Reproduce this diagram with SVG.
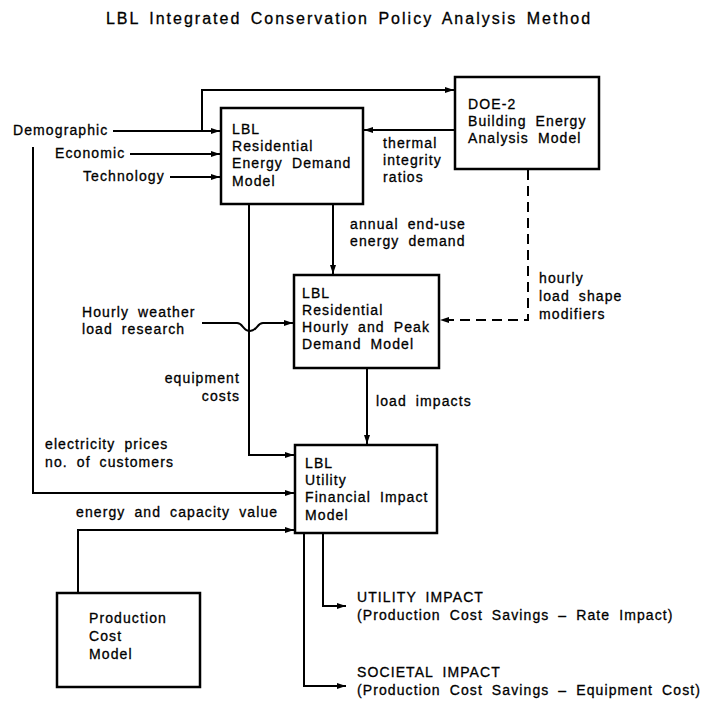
<svg xmlns="http://www.w3.org/2000/svg" width="705" height="704" viewBox="0 0 705 704">
<defs>
<style>
text{font-family:"Liberation Sans",Arial,Helvetica,sans-serif;font-size:14px;letter-spacing:1.1px;word-spacing:4px;fill:#000;stroke:#000;stroke-width:0.3px}
.title{font-size:16px;letter-spacing:2px;word-spacing:3px}
.box{fill:#fff;stroke:#000;stroke-width:2.5}
.ln{fill:none;stroke:#000;stroke-width:2}
.dash{stroke-dasharray:10 6}
</style>
<marker id="ah" viewBox="0 0 9 6" refX="9" refY="3" markerWidth="9" markerHeight="6" markerUnits="userSpaceOnUse" orient="auto">
<path d="M0,0 L9,3 L0,6 z" fill="#000"/>
</marker>
</defs>
<rect width="705" height="704" fill="#fff"/>
<text class="title" x="349" y="24" text-anchor="middle">LBL Integrated Conservation Policy Analysis Method</text>

<g id="connectors">
<path class="ln" d="M113,131 H220" marker-end="url(#ah)"/>
<path class="ln" d="M130,154 H220" marker-end="url(#ah)"/>
<path class="ln" d="M170,177 H220" marker-end="url(#ah)"/>
<path class="ln" d="M202,131 V90 H454" marker-end="url(#ah)"/>
<path class="ln" d="M455,130 H364" marker-end="url(#ah)"/>
<path class="ln" d="M33,147 V493 H294" marker-end="url(#ah)"/>
<path class="ln" d="M249,204 V455 H294" marker-end="url(#ah)"/>
<path class="ln" d="M333,204 V274" marker-end="url(#ah)"/>
<path class="ln" d="M202,323 H237 C243,323 243,331 250,331 C257,331 257,323 263,323 H293" marker-end="url(#ah)"/>
<path class="ln dash" d="M528,170 V320 H440" marker-end="url(#ah)"/>
<path class="ln" d="M367,368 V444" marker-end="url(#ah)"/>
<path class="ln" d="M78,593 V530 H294" marker-end="url(#ah)"/>
<path class="ln" d="M323,533 V606 H346" marker-end="url(#ah)"/>
<path class="ln" d="M304,533 V686 H346" marker-end="url(#ah)"/>
</g>

<g id="labels">
<text x="13" y="135">Demographic</text>
<text x="55" y="158">Economic</text>
<text x="83" y="181">Technology</text>
<text x="383" y="148">thermal</text>
<text x="383" y="165">integrity</text>
<text x="383" y="182">ratios</text>
<text x="350" y="229">annual end-use</text>
<text x="350" y="246">energy demand</text>
<text x="539" y="283">hourly</text>
<text x="539" y="301">load shape</text>
<text x="539" y="319">modifiers</text>
<text x="82" y="317">Hourly weather</text>
<text x="82" y="334">load research</text>
<text x="240" y="383" text-anchor="end">equipment</text>
<text x="240" y="401" text-anchor="end">costs</text>
<text x="376" y="406">load impacts</text>
<text x="45" y="449">electricity prices</text>
<text x="45" y="467">no. of customers</text>
<text x="76" y="517">energy and capacity value</text>
</g>

<g id="node-red">
<rect class="box" x="221" y="108" width="142" height="96"/>
<text x="232" y="134">LBL</text>
<text x="232" y="151">Residential</text>
<text x="232" y="168">Energy Demand</text>
<text x="232" y="186">Model</text>
</g>

<g id="node-doe2">
<rect class="box" x="455" y="77" width="144" height="92"/>
<text x="468" y="109">DOE-2</text>
<text x="468" y="126">Building Energy</text>
<text x="468" y="143">Analysis Model</text>
</g>

<g id="node-hourly">
<rect class="box" x="294" y="275" width="145" height="93"/>
<text x="302" y="298">LBL</text>
<text x="302" y="315">Residential</text>
<text x="302" y="332">Hourly and Peak</text>
<text x="302" y="349">Demand Model</text>
</g>

<g id="node-utility">
<rect class="box" x="295" y="445" width="142" height="88"/>
<text x="305" y="468">LBL</text>
<text x="305" y="485">Utility</text>
<text x="305" y="502">Financial Impact</text>
<text x="305" y="520">Model</text>
</g>

<g id="node-production">
<rect class="box" x="57" y="593" width="143" height="94"/>
<text x="89" y="623">Production</text>
<text x="89" y="641">Cost</text>
<text x="89" y="659">Model</text>
</g>

<g id="node-utility-impact">
<text x="357" y="602">UTILITY IMPACT</text>
<text x="357" y="620">(Production Cost Savings – Rate Impact)</text>
</g>

<g id="node-societal-impact">
<text x="357" y="677">SOCIETAL IMPACT</text>
<text x="357" y="695">(Production Cost Savings – Equipment Cost)</text>
</g>
</svg>
